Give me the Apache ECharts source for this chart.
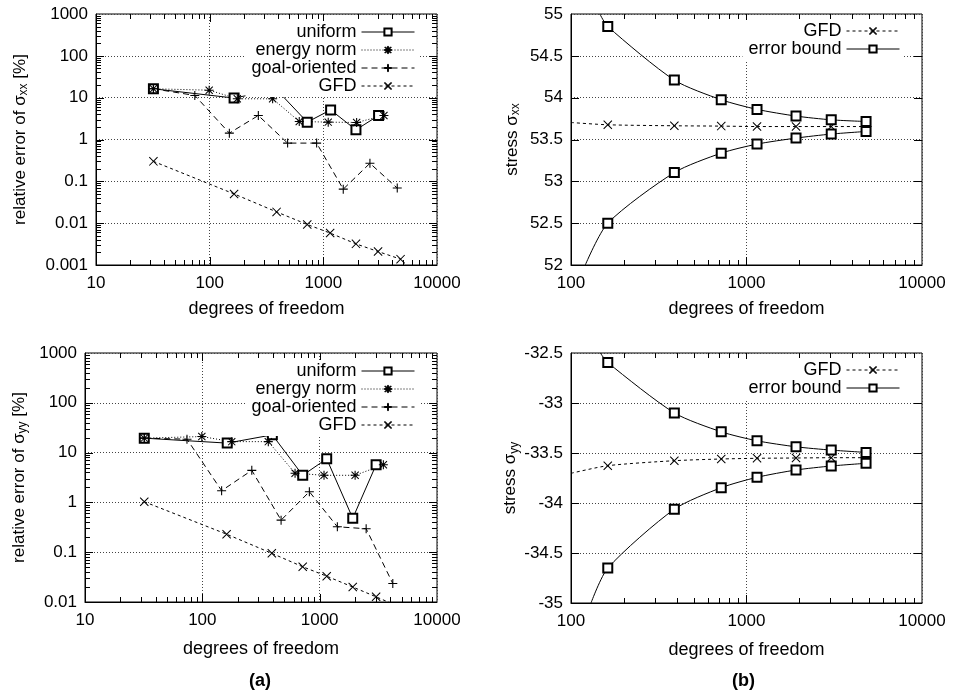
<!DOCTYPE html>
<html>
<head>
<meta charset="utf-8">
<script src="https://cdn.jsdelivr.net/npm/echarts@6/dist/echarts.min.js"></script>
<style>html,body{margin:0;padding:0;background:#fff}#main{width:953px;height:697px}</style>
</head>
<body>
<div id="main"></div>
<script>
// relative error of sigma_xx (top left)
var dofUniXX = [32, 164, 388, 722, 1159, 1936, 3062];
var errUniXX = [16.3, 9.8, 15.5, 2.6, 5.1, 1.7, 3.75];
var dofEnXX = [32, 99, 175, 358, 614, 1104, 1963, 3412];
var errEnXX = [16.3, 15.1, 9.4, 9.4, 2.7, 2.6, 2.55, 3.75];
var dofGoXX = [32, 74, 149, 268, 485, 873, 1497, 2570, 4470];
var errGoXX = [16.3, 11.3, 1.42, 3.75, 0.82, 0.82, 0.065, 0.27, 0.069];
var dofGfdXX = [32, 164, 388, 722, 1148, 1936, 3030, 4780];
var errGfdXX = [0.3, 0.05, 0.0186, 0.0093, 0.0058, 0.0032, 0.0021, 0.00138];

// relative error of sigma_yy (bottom left)
var dofUniYY = [32, 163, 395, 717, 1148, 1914, 3027];
var errUniYY = [19.5, 15.5, 22.7, 3.5, 7.5, 0.48, 5.7];
var dofEnYY = [32, 99, 178, 365, 617, 1089, 2005, 3490];
var errEnYY = [19.5, 21, 16.6, 16.6, 3.86, 3.5, 3.5, 5.7];
var dofGoYY = [32, 74, 146, 264, 469, 817, 1415, 2490, 4200];
var errGoYY = [19.5, 18.6, 1.72, 4.4, 0.44, 1.64, 0.324, 0.296, 0.0235];
var dofGfdYY = [32, 161, 391, 717, 1148, 1914, 3027, 4780];
var errGfdYY = [1.03, 0.23, 0.095, 0.051, 0.033, 0.020, 0.0127, 0.008];

// stress panels (right)
var dofBound = [162, 388, 718, 1148, 1915, 3040, 4800];
var sxxUpper = [54.85, 54.21, 53.975, 53.86, 53.78, 53.735, 53.715];
var sxxLower = [52.5, 53.105, 53.337, 53.445, 53.517, 53.565, 53.596];
var sxxGfd = [53.676, 53.664, 53.66, 53.655, 53.655, 53.655, 53.655];
var syyUpper = [-32.596, -33.099, -33.288, -33.378, -33.438, -33.471, -33.494];
var syyLower = [-34.651, -34.062, -33.847, -33.743, -33.670, -33.630, -33.603];
var syyGfd = [-33.627, -33.577, -33.56, -33.553, -33.55, -33.547, -33.547];
// where the curves leave the plot box on the left
var sxxStart = {upper: [146, 55], lower: [120.6, 52], gfd: [100, 53.703]};
var syyStart = {upper: [147, -32.5], lower: [130, -35], gfd: [100, -33.703]};

// tick values
var decadesLeftX = [10, 100, 1000, 10000];
var decadesRightX = [100, 1000, 10000];
var decadesXX = [0.001, 0.01, 0.1, 1, 10, 100, 1000];
var decadesYY = [0.01, 0.1, 1, 10, 100, 1000];
var ticksSxx = [52, 52.5, 53, 53.5, 54, 54.5, 55];
var ticksSyy = [-35, -34.5, -34, -33.5, -33, -32.5];
var minorSteps = [2, 3, 4, 5, 6, 7, 8, 9];

var FONT = '"Liberation Sans", Arial, sans-serif';
var BLACK = '#000';

var gridBoxes = [
    {left: 96, top: 14, width: 341, height: 251},
    {left: 571, top: 14, width: 351, height: 251},
    {left: 85, top: 353, width: 352, height: 249},
    {left: 571, top: 353, width: 351, height: 250}
];

var SYM_PLUS = 'path://M4.4,0H5.6V10H4.4Z M0,4.4H10V5.6H0Z';
var SYM_CROSS = 'path://M0,0.8L0.8,0L10,9.2L9.2,10Z M9.2,0L10,0.8L0.8,10L0,9.2Z';
var SYM_STAR = 'path://M4.4,0H5.6V10H4.4Z M0,4.4H10V5.6H0Z M0.6,1.4L1.4,0.6L9.4,8.6L8.6,9.4Z M8.6,0.6L9.4,1.4L1.4,9.4L0.6,8.6Z';

function pairs(xs, ys) {
    return xs.map(function (x, i) { return [x, ys[i]]; });
}
function curve(start, xs, ys) {
    return [{value: start, symbol: 'none'}].concat(pairs(xs, ys));
}

// inner tick marks like gnuplot: [value, isMajor]
function logTicks(decades) {
    var out = [];
    for (var i = 0; i < decades.length; i++) {
        if (i > 0 && i < decades.length - 1) out.push([decades[i], 1]);
        if (i < decades.length - 1) {
            for (var k = 0; k < minorSteps.length; k++) {
                out.push([+(minorSteps[k] * decades[i]).toPrecision(6), 0]);
            }
        }
    }
    return out;
}
function linTicks(vals) {
    return vals.slice(1, vals.length - 1).map(function (v) { return [v, 1]; });
}

var labelStyle = {color: BLACK, fontSize: 17, fontFamily: FONT};
var gridLine = {show: true, lineStyle: {color: '#444', width: 1, type: [1, 2]}};
function fmt(v) { return String(+(+v).toPrecision(6)); }

function xAxisOf(gi, min, max, gap) {
    return {
        gridIndex: gi, type: 'log', logBase: 10, min: min, max: max,
        name: 'degrees of freedom', nameLocation: 'middle', nameGap: gap,
        nameTextStyle: {color: BLACK, fontSize: 18, fontFamily: FONT},
        axisLine: {show: true, lineStyle: {color: BLACK, width: 1}},
        axisTick: {show: false},
        axisLabel: Object.assign({margin: 10, formatter: fmt}, labelStyle),
        splitLine: gridLine
    };
}
function yAxisOf(gi, type, min, max, name, gap, extra) {
    var a = {
        gridIndex: gi, type: type, min: min, max: max,
        name: name, nameLocation: 'middle', nameGap: gap, nameRotate: 90,
        nameTextStyle: Object.assign({rich: {s: {fontSize: 12, fontFamily: FONT, color: BLACK, verticalAlign: 'bottom', padding: [8, 0, 0, 0]}}}, labelStyle),
        axisLine: {show: true, lineStyle: {color: BLACK, width: 1}},
        axisTick: {show: false},
        axisLabel: Object.assign({margin: 8, formatter: fmt}, labelStyle),
        splitLine: gridLine
    };
    return Object.assign(a, extra || {});
}

function lineSeries(name, gi, data, dash, symbol, size, smooth) {
    return {
        name: name, type: 'line', xAxisIndex: gi, yAxisIndex: gi,
        data: data, symbol: symbol, symbolSize: size,
        smooth: smooth ? 0.25 : false,
        lineStyle: {color: BLACK, width: 1, type: dash},
        itemStyle: {color: BLACK, borderColor: BLACK, borderWidth: symbol === 'emptyRect' ? 1 : 0},
        clip: true, z: 3
    };
}
function legendOf(names, right, top) {
    return {
        data: names, orient: 'vertical', align: 'right', right: right, top: top,
        itemWidth: 53, itemHeight: 9, itemGap: 0, padding: [2, 4, 2, 6],
        backgroundColor: '#fff', selectedMode: false,
        lineStyle: {width: 1},
        itemStyle: {borderWidth: 1},
        textStyle: {color: BLACK, fontSize: 18, fontFamily: FONT}
    };
}

var myChart = echarts.init(document.getElementById('main'));

var captions = [
    {type: 'text', left: 249, top: 672, style: {text: '(a)', fontSize: 18, fontWeight: 'bold', fontFamily: FONT, fill: BLACK}},
    {type: 'text', left: 732, top: 672, style: {text: '(b)', fontSize: 18, fontWeight: 'bold', fontFamily: FONT, fill: BLACK}}
];

var option = {
    animation: false,
    grid: gridBoxes.map(function (g) { return Object.assign({show: true, borderColor: BLACK, borderWidth: 1}, g); }),
    xAxis: [
        xAxisOf(0, 10, 10000, 35),
        xAxisOf(1, 100, 10000, 35),
        xAxisOf(2, 10, 10000, 38),
        xAxisOf(3, 100, 10000, 38)
    ],
    yAxis: [
        yAxisOf(0, 'log', 0.001, 1000, 'relative error of σ{s|xx} [%]', 66, {logBase: 10, splitNumber: 6}),
        yAxisOf(1, 'value', 52, 55, 'stress σ{s|xx}', 49, {interval: 0.5}),
        yAxisOf(2, 'log', 0.01, 1000, 'relative error of σ{s|yy} [%]', 56, {logBase: 10, splitNumber: 5}),
        yAxisOf(3, 'value', -35, -32.5, 'stress σ{s|yy}', 49, {interval: 0.5})
    ],
    legend: [
        legendOf(['uniform', 'energy norm', 'goal-oriented', 'GFD'], 534, 21),
        legendOf(['GFD', 'error bound'], 49, 20),
        legendOf(['uniform', 'energy norm', 'goal-oriented', 'GFD'], 534, 360),
        legendOf(['GFD', 'error bound'], 49, 359)
    ],
    series: [
        lineSeries('uniform', 0, pairs(dofUniXX, errUniXX), 'solid', 'emptyRect', 9),
        lineSeries('energy norm', 0, pairs(dofEnXX, errEnXX), [1, 2], SYM_STAR, 9),
        lineSeries('goal-oriented', 0, pairs(dofGoXX, errGoXX), [6, 4], SYM_PLUS, 9),
        lineSeries('GFD', 0, pairs(dofGfdXX, errGfdXX), [3, 3], SYM_CROSS, 9),

        lineSeries('GFD', 1, curve(sxxStart.gfd, dofBound, sxxGfd), [3, 3], SYM_CROSS, 9, true),
        lineSeries('error bound', 1, curve(sxxStart.upper, dofBound, sxxUpper), 'solid', 'emptyRect', 9, true),
        lineSeries('error bound', 1, curve(sxxStart.lower, dofBound, sxxLower), 'solid', 'emptyRect', 9, true),

        lineSeries('uniform', 2, pairs(dofUniYY, errUniYY), 'solid', 'emptyRect', 9),
        lineSeries('energy norm', 2, pairs(dofEnYY, errEnYY), [1, 2], SYM_STAR, 9),
        lineSeries('goal-oriented', 2, pairs(dofGoYY, errGoYY), [6, 4], SYM_PLUS, 9),
        lineSeries('GFD', 2, pairs(dofGfdYY, errGfdYY), [3, 3], SYM_CROSS, 9),

        lineSeries('GFD', 3, curve(syyStart.gfd, dofBound, syyGfd), [3, 3], SYM_CROSS, 9, true),
        lineSeries('error bound', 3, curve(syyStart.upper, dofBound, syyUpper), 'solid', 'emptyRect', 9, true),
        lineSeries('error bound', 3, curve(syyStart.lower, dofBound, syyLower), 'solid', 'emptyRect', 9, true)
    ]
};
myChart.setOption(option);

// tick marks on all four sides, placed through the axes' own scales
function tickLine(x1, y1, x2, y2) {
    return {type: 'line', shape: {x1: x1, y1: y1, x2: x2, y2: y2},
        style: {stroke: '#000', lineWidth: 1}};
}
function tickMarks(gi, xTicks, yTicks) {
    var b = gridBoxes[gi], els = [];
    xTicks.forEach(function (t) {
        var px = myChart.convertToPixel({xAxisIndex: gi}, t[0]);
        var x = Math.round(px) + 0.5, len = t[1] ? 8 : 5;
        els.push(tickLine(x, b.top + b.height, x, b.top + b.height - len));
        els.push(tickLine(x, b.top, x, b.top + len));
    });
    yTicks.forEach(function (t) {
        var py = myChart.convertToPixel({yAxisIndex: gi}, t[0]);
        var y = Math.round(py) + 0.5, len = t[1] ? 8 : 5;
        els.push(tickLine(b.left, y, b.left + len, y));
        els.push(tickLine(b.left + b.width, y, b.left + b.width - len, y));
    });
    return els;
}
var ticks = [].concat(
    tickMarks(0, logTicks(decadesLeftX), logTicks(decadesXX)),
    tickMarks(1, logTicks(decadesRightX), linTicks(ticksSxx)),
    tickMarks(2, logTicks(decadesLeftX), logTicks(decadesYY)),
    tickMarks(3, logTicks(decadesRightX), linTicks(ticksSyy))
);
myChart.setOption({graphic: captions.concat(ticks)});
</script>
</body>
</html>
